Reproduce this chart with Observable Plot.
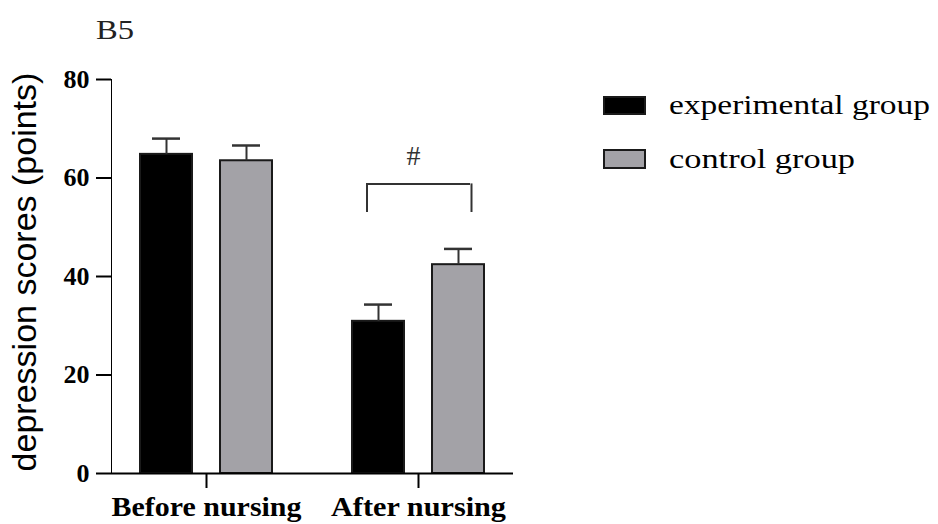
<!DOCTYPE html>
<html><head><meta charset="utf-8">
<script src="https://cdn.jsdelivr.net/npm/d3@7"></script>
<script src="https://cdn.jsdelivr.net/npm/@observablehq/plot@0.6"></script>
<style>
body{margin:0;background:#fff}
#chart{width:938px;height:524px;overflow:hidden}
#chart svg [aria-label^="y-axis"] line, #chart svg [aria-label^="y-axis"] path,
#chart svg [aria-label^="fx-axis"] line, #chart svg [aria-label^="fx-axis"] path{stroke-width:2}
</style>
</head><body><div id="chart"></div>
<script>
const periods = ["Before nursing", "After nursing"];
const groups = ["experimental group", "control group"];
const experimentalMeans = [64.8, 30.9];
const experimentalErrors = [3.2, 3.4];
const controlMeans = [63.5, 42.4];
const controlErrors = [3.1, 3.2];
const yTicks = [0, 20, 40, 60, 80];
const groupColors = ["#000000", "#a3a2a7"];
const titleText = "B5";
const yLabel = "depression scores (points)";
const significance = [{period: "After nursing", label: "#", y1: 53, y2: 58.8, labelY: 64.5}];

const rows = periods.flatMap((p, i) => [
  {period: p, group: groups[0], mean: experimentalMeans[i], err: experimentalErrors[i]},
  {period: p, group: groups[1], mean: controlMeans[i], err: controlErrors[i]}
]);

const plot = Plot.plot({
  width: 938, height: 524,
  marginLeft: 111, marginRight: 425, marginTop: 79, marginBottom: 51,
  style: {fontFamily: "'Liberation Serif', 'Times New Roman', serif", fontSize: "26px", fontWeight: "bold", color: "#000", background: "#fff", overflow: "visible"},
  fx: {domain: periods, paddingInner: 22 / 212, paddingOuter: 0, tickSize: 15, tickPadding: 8, label: null},
  x: {domain: groups, paddingInner: 0.35, paddingOuter: 0.3625, axis: null},
  y: {domain: [0, 80], ticks: yTicks, tickSize: 15, tickPadding: 7, line: true, label: null},
  color: {domain: groups, range: groupColors},
  marks: [
    Plot.barY(rows, {fx: "period", x: "group", y: "mean", fill: "group", stroke: "#1a1a1a", strokeWidth: 2}),
    Plot.ruleX(rows, {fx: "period", x: "group", y1: "mean", y2: d => d.mean + d.err, stroke: "#333", strokeWidth: 2}),
    Plot.tickY(rows, {fx: "period", x: "group", y: d => d.mean + d.err, stroke: "#333", strokeWidth: 2.5, insetLeft: 12, insetRight: 12}),
    Plot.ruleY([periods[0]], {fx: d => d, y: 0, insetRight: -22, stroke: "#000", strokeWidth: 2}),
    Plot.ruleY([periods[1]], {fx: d => d, y: 0, stroke: "#000", strokeWidth: 2}),
    Plot.ruleY(significance, {fx: "period", y: "y2", insetLeft: 43, insetRight: 43, stroke: "#333", strokeWidth: 2}),
    Plot.ruleX(significance, {fx: "period", x: () => groups[0], y1: "y1", y2: "y2", dx: -11.5, stroke: "#333", strokeWidth: 2}),
    Plot.ruleX(significance, {fx: "period", x: () => groups[1], y1: "y1", y2: "y2", dx: 13, stroke: "#333", strokeWidth: 2}),
    Plot.text(significance, {fx: "period", y: "labelY", text: "label", dx: -5, fontSize: 28, fontWeight: "normal", fill: "#333"})
  ]
});

document.getElementById("chart").appendChild(plot);
const svg = d3.select(plot.tagName.toLowerCase() === "svg" ? plot : plot.querySelector("svg"));

// fx tick labels
const labelWidths = {"Before nursing": 190, "After nursing": 175};
svg.selectAll("text").each(function() {
  const t = this.textContent;
  if (labelWidths[t] !== undefined) {
    d3.select(this).attr("font-size", 28).style("font-size", "28px")
      .attr("textLength", labelWidths[t]).attr("lengthAdjust", "spacingAndGlyphs");
  }
});

// title
svg.append("text").attr("x", 96).attr("y", 39).attr("text-anchor", "start").text(titleText)
  .attr("font-family", "'Liberation Serif', serif").attr("font-size", 27).attr("font-weight", "normal")
  .attr("textLength", 38).attr("lengthAdjust", "spacingAndGlyphs").attr("fill", "#222");

// y label
svg.append("text").attr("transform", "translate(36,272) rotate(-90)").attr("text-anchor", "middle")
  .attr("font-family", "'Liberation Sans', Arial, sans-serif").attr("font-size", 34).attr("font-weight", "normal")
  .attr("fill", "#000").text(yLabel);

// legend
const legendY = [97, 150];
const legendText = [{w: 261, base: 114}, {w: 186, base: 168}];
groups.forEach((g, i) => {
  svg.append("rect").attr("x", 604).attr("y", legendY[i]).attr("width", 41).attr("height", i === 0 ? 17 : 18)
    .attr("fill", groupColors[i]).attr("stroke", "#1a1a1a").attr("stroke-width", 2);
  svg.append("text").attr("x", 669).attr("y", legendText[i].base).attr("text-anchor", "start").text(g)
    .attr("font-family", "'Liberation Serif', serif").attr("font-size", 28).attr("font-weight", "normal")
    .attr("textLength", legendText[i].w).attr("lengthAdjust", "spacingAndGlyphs").attr("fill", "#000");
});
</script>
</body></html>
